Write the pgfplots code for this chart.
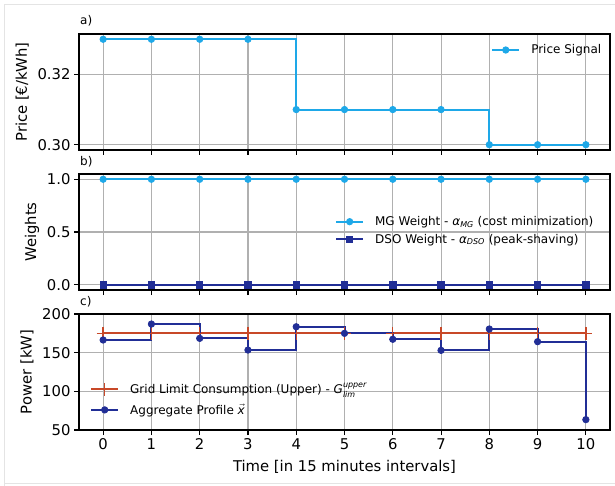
\documentclass[border=0pt]{standalone}
\usepackage{fontspec}
\setmainfont{DejaVu Sans}
\usepackage{amsmath}
\usepackage{pgfplots}
\pgfplotsset{compat=1.18}

\definecolor{sigblue}{RGB}{30,168,232}
\definecolor{dkblue}{RGB}{33,46,150}
\definecolor{limred}{RGB}{200,72,40}
\definecolor{gridgray}{RGB}{176,176,176}
\definecolor{framegray}{RGB}{228,228,228}

\pgfplotsset{
  panel/.style={
    scale only axis, width=531pt, height=116pt,
    xmin=-0.5, xmax=10.5, xtick={0,...,10},
    grid=major, major grid style={gridgray, line width=1.1pt},
    axis line style={line width=1.1pt},
    tick align=outside, tick pos=left,
    major tick length=5pt,
    every tick/.style={black, line width=1.1pt},
    tick label style={font=\fontsize{14.8}{17}\selectfont},
    /pgf/number format/assume math mode=true,
    scaled y ticks=false,
    label style={font=\fontsize{14.8}{17}\selectfont},
    title style={font=\fontsize{12}{14}\selectfont, at={(axis description cs:0,1)},
      anchor=base west, inner sep=0pt, xshift=1pt, yshift=3pt},
    legend style={draw=none, fill=none, inner sep=0pt, anchor=west,
      font=\fontsize{12}{14}\selectfont,
      /tikz/every odd column/.style={column sep=9pt}},
    legend cell align=left,
    legend image code/.code={\draw[mark repeat=2,mark phase=2,##1]
      plot coordinates {(0pt,0pt) (13.5pt,0pt) (27pt,0pt)};},
  },
}

\begin{document}
\begin{tikzpicture}
\path[use as bounding box] (0pt,0pt) rectangle (615pt,-486pt);
\draw[framegray, line width=1.5pt] (4.5pt,-486pt) -- (4.5pt,-4.5pt) -- (615pt,-4.5pt);
\draw[framegray, line width=1.5pt] (4.5pt,-483.5pt) -- (615pt,-483.5pt);

% a) price
\begin{axis}[panel, at={(79pt,-34pt)}, anchor=north west,
  ymin=0.2985, ymax=0.3315, ytick={0.30,0.32},
  yticklabel style={/pgf/number format/.cd, fixed, fixed zerofill, precision=2},
  xticklabels={}, title={a)}, ylabel={Price [€/kWh]},
  ylabel style={at={(axis description cs:-0.107,0.5)}, anchor=center},
  legend style={at={(axis description cs:0.776,0.862)}}]
\addplot[const plot, sigblue, line width=2pt, mark=*, mark size=3.2pt,
  mark options={line width=0.8pt}] coordinates {
  (0,0.33) (1,0.33) (2,0.33) (3,0.33) (4,0.31) (5,0.31)
  (6,0.31) (7,0.31) (8,0.30) (9,0.30) (10,0.30)};
\addlegendentry{Price Signal}
\end{axis}

% b) weights
\begin{axis}[panel, at={(79pt,-174pt)}, anchor=north west,
  ymin=-0.05, ymax=1.05, ytick={0,0.5,1},
  yticklabel style={/pgf/number format/.cd, fixed, fixed zerofill, precision=1},
  xticklabels={}, title={b)}, ylabel={Weights},
  ylabel style={at={(axis description cs:-0.0885,0.5)}, anchor=center},
  legend style={at={(axis description cs:0.482,0.513)}, row sep=3pt}]
\addplot[const plot, sigblue, line width=2pt, mark=*, mark size=3.2pt,
  mark options={line width=0.8pt}] coordinates {
  (0,1) (1,1) (2,1) (3,1) (4,1) (5,1) (6,1) (7,1) (8,1) (9,1) (10,1)};
\addlegendentry{MG Weight - \textit{α}\textsubscript{\textit{MG}} (cost minimization)}
\addplot[const plot, dkblue, line width=2pt, mark=square*, mark size=3.2pt,
  mark options={line width=0.8pt}] coordinates {
  (0,0) (1,0) (2,0) (3,0) (4,0) (5,0) (6,0) (7,0) (8,0) (9,0) (10,0)};
\addlegendentry{DSO Weight - \textit{α}\textsubscript{\textit{DSO}} (peak-shaving)}
\end{axis}

% c) power
\begin{axis}[panel, at={(79pt,-314pt)}, anchor=north west,
  ymin=50, ymax=200, ytick={50,100,150,200},
  title={c)}, ylabel={Power [kW]}, xlabel={Time [in 15 minutes intervals]},
  ylabel style={at={(axis description cs:-0.098,0.5)}, anchor=center},
  xlabel style={at={(axis description cs:0.5,-0.316)}, anchor=center},
  legend style={at={(axis description cs:0.0207,0.263)}, row sep=5pt}]
\addplot[limred, line width=2pt, mark=+, mark size=6.5pt,
  mark options={line width=1.4pt}] coordinates {
  (0,175) (1,175) (2,175) (3,175) (4,175) (5,175)
  (6,175) (7,175) (8,175) (9,175) (10,175)};
\addlegendentry{Grid Limit Consumption (Upper) - $\textit{G}^{\textit{upper}}_{\textit{lim}}$}
\addplot[const plot, dkblue, line width=2pt, mark=*, mark size=3.2pt,
  mark options={line width=0.8pt}] coordinates {
  (0,166.4) (1,187) (2,168.5) (3,153.4) (4,183.5) (5,175)
  (6,167.3) (7,153) (8,180.6) (9,164.2) (10,63.4)};
\addlegendentry{Aggregate Profile $\vec{\textit{x}}$}
\end{axis}
\end{tikzpicture}
\end{document}
